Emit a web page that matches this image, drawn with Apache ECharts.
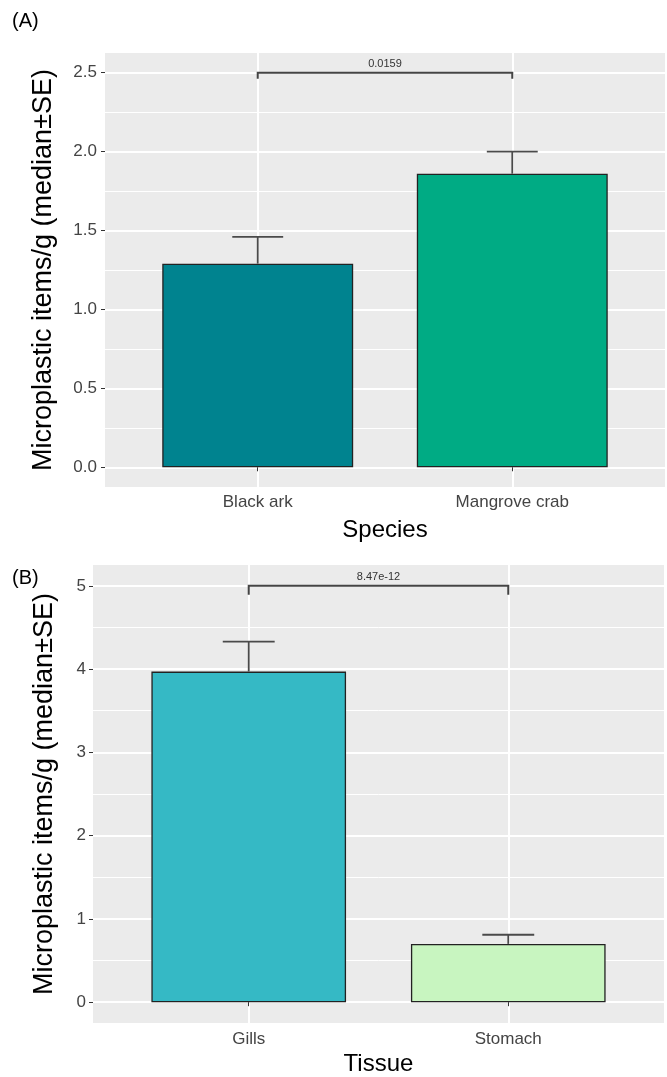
<!DOCTYPE html>
<html><head><meta charset="utf-8">
<script src="https://cdn.jsdelivr.net/npm/echarts@6/dist/echarts.min.js"></script>
<style>html,body{margin:0;padding:0;background:#fff}#c{width:667px;height:1077px}</style>
</head><body><div id="c"></div><script>
// ---- Panel A data ----
const speciesCategories = ['Black ark', 'Mangrove crab'];
const speciesMedian = [1.29, 1.86];
const speciesSE = [0.17, 0.14];
const speciesTicks = [0, 0.5, 1.0, 1.5, 2.0, 2.5];
const speciesMinorTicks = [0.25, 0.75, 1.25, 1.75, 2.25];
const speciesBracket = [1, 2, 2.5];
const speciesPLabel = '0.0159';
// ---- Panel B data ----
const tissueCategories = ['Gills', 'Stomach'];
const tissueMedian = [3.97, 0.70];
const tissueSE = [0.36, 0.11];
const tissueTicks = [0, 1, 2, 3, 4, 5];
const tissueMinorTicks = [0.5, 1.5, 2.5, 3.5, 4.5];
const tissueBracket = [1, 2, 5.0];
const tissuePLabel = '8.47e-12';

const speciesColors = ['#00838F', '#00AB84'];
const tissueColors = ['#35B9C5', '#C8F5C0'];

const FONT = 'Liberation Sans, Arial, sans-serif';
const TICK_COLOR = '#444444';

function yExtent(ticks) {
  const lo = ticks[0], hi = ticks[ticks.length - 1];
  const pad = (hi - lo) * 0.05;
  return [lo - pad, hi + pad];
}

function xAxisFor(gridIndex, cats, name, labelMargin, nameGap) {
  return {
    type: 'value', gridIndex, min: 0.4, max: 2.6,
    axisLine: { show: false },
    axisTick: { show: true, length: 4, customValues: cats.map((c, i) => i + 1), lineStyle: { color: '#333', width: 1 } },
    axisLabel: { show: true, customValues: cats.map((c, i) => i + 1), formatter: v => cats[Math.round(v) - 1] || '',
      color: TICK_COLOR, fontSize: 17, fontFamily: FONT, margin: labelMargin },
    splitLine: { show: true, lineStyle: { color: '#ffffff', width: 2 } },
    name, nameLocation: 'middle', nameGap,
    nameTextStyle: { color: '#000', fontSize: 24, fontFamily: FONT }
  };
}

function yAxesFor(gridIndex, ticks, minor, decimals, labelMargin, nameGap) {
  const ext = yExtent(ticks);
  return [{
    type: 'value', gridIndex, min: ext[0], max: ext[1],
    axisLine: { show: false },
    axisTick: { show: true, length: 4, customValues: ticks, lineStyle: { color: '#333', width: 1 } },
    axisLabel: { show: true, customValues: ticks, formatter: v => Number(v).toFixed(decimals),
      color: TICK_COLOR, fontSize: 17, fontFamily: FONT, margin: labelMargin },
    splitLine: { show: true, lineStyle: { color: '#ffffff', width: 2 } },
    name: 'Microplastic items/g (median±SE)', nameLocation: 'middle', nameRotate: 90, nameGap,
    nameTextStyle: { color: '#000', fontSize: 27, fontFamily: FONT }
  }, {
    type: 'value', gridIndex, min: ext[0], max: ext[1],
    axisLine: { show: false },
    axisTick: { show: false, customValues: minor },
    axisLabel: { show: false },
    splitLine: { show: true, lineStyle: { color: '#ffffff', width: 1 } }
  }];
}

function seriesFor(xi, yi, cats, med, se, colors, bracket, pLabel, tip) {
  return [{
    type: 'bar', xAxisIndex: xi, yAxisIndex: yi, barWidth: '75%', z: 3,
    data: cats.map((c, i) => ({ value: [i + 1, med[i]], itemStyle: { color: colors[i] } })),
    itemStyle: { borderColor: '#222222', borderWidth: 1.3 }
  }, {
    type: 'custom', xAxisIndex: xi, yAxisIndex: yi, z: 4,
    data: med.map((m, i) => [i + 1, m, m + se[i]]),
    encode: { x: 0, y: [1, 2] },
    renderItem: (params, api) => {
      const x = api.value(0);
      const p0 = api.coord([x, api.value(1)]);
      const p1 = api.coord([x, api.value(2)]);
      const half = api.size([0.1, 0])[0];
      const st = { stroke: '#4a4a4a', lineWidth: 1.8 };
      return { type: 'group', children: [
        { type: 'line', shape: { x1: p0[0], y1: p0[1], x2: p1[0], y2: p1[1] }, style: st },
        { type: 'line', shape: { x1: p1[0] - half, y1: p1[1], x2: p1[0] + half, y2: p1[1] }, style: st }
      ] };
    }
  }, {
    type: 'custom', xAxisIndex: xi, yAxisIndex: yi, z: 5,
    data: [bracket],
    encode: { x: [0, 1], y: 2 },
    renderItem: (params, api) => {
      const a = api.coord([api.value(0), api.value(2)]);
      const b = api.coord([api.value(1), api.value(2)]);
      return { type: 'group', children: [
        { type: 'polyline', shape: { points: [[a[0], a[1] + tip], [a[0], a[1]], [b[0], b[1]], [b[0], b[1] + tip]] },
          style: { stroke: '#444', lineWidth: 2, fill: null } },
        { type: 'text', style: { text: pLabel, x: (a[0] + b[0]) / 2, y: a[1] - 3, align: 'center', verticalAlign: 'bottom',
          font: '11px ' + FONT, fill: '#333' } }
      ] };
    }
  }];
}

const chart = echarts.init(document.getElementById('c'), null, { renderer: 'canvas' });
chart.setOption({
  backgroundColor: '#ffffff',
  animation: false,
  grid: [
    { left: 105, right: 2, top: 53, height: 434, show: true, backgroundColor: '#EBEBEB', borderWidth: 0 },
    { left: 93, right: 3, top: 565, height: 460, show: true, backgroundColor: '#EBEBEB', borderWidth: 0 }
  ],
  xAxis: [
    xAxisFor(0, speciesCategories, 'Species', 7, 31),
    xAxisFor(1, tissueCategories, 'Tissue', 8, 29)
  ],
  yAxis: [
    ...yAxesFor(0, speciesTicks, speciesMinorTicks, 1, 8, 48),
    ...yAxesFor(1, tissueTicks, tissueMinorTicks, 0, 7, 35)
  ],
  series: [
    ...seriesFor(0, 0, speciesCategories, speciesMedian, speciesSE, speciesColors, speciesBracket, speciesPLabel, 6),
    ...seriesFor(1, 2, tissueCategories, tissueMedian, tissueSE, tissueColors, tissueBracket, tissuePLabel, 9)
  ],
  graphic: [
    { type: 'text', left: 12, top: 11, style: { text: '(A)', font: '20px ' + FONT, fill: '#000' } },
    { type: 'text', left: 12, top: 568, style: { text: '(B)', font: '20px ' + FONT, fill: '#000' } }
  ]
});
</script></body></html>
